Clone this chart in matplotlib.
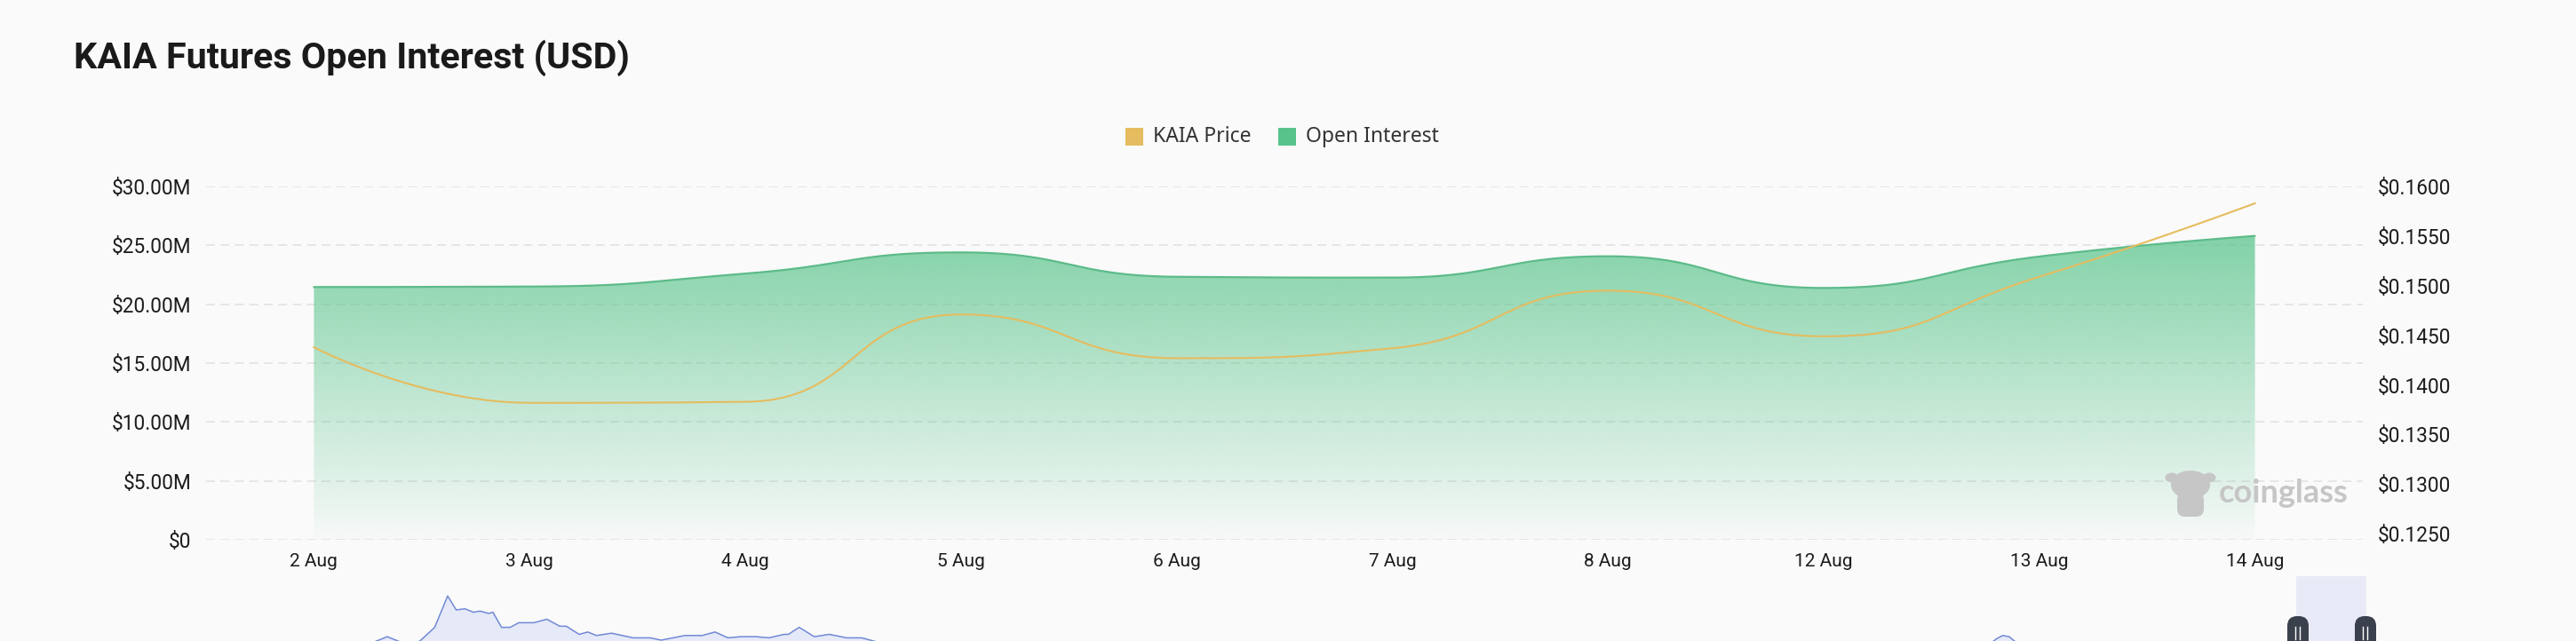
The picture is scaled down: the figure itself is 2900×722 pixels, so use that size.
import numpy as np
import matplotlib
matplotlib.use("Agg")
import matplotlib.pyplot as plt
from matplotlib.patches import Rectangle, FancyBboxPatch, Ellipse, Polygon

# ---- data ----
dates = ['2 Aug', '3 Aug', '4 Aug', '5 Aug', '6 Aug', '7 Aug', '8 Aug', '12 Aug', '13 Aug', '14 Aug']
open_interest = [21.46, 21.50, 22.60, 24.40, 22.33, 22.26, 24.07, 21.38, 24.05, 25.80]  # million USD
kaia_price = [0.1438, 0.1382, 0.1383, 0.1471, 0.1427, 0.1437, 0.1495, 0.1449, 0.1509, 0.1583]
oi_ticks = [0, 5, 10, 15, 20, 25, 30]
price_ticks = [0.125, 0.130, 0.135, 0.140, 0.145, 0.150, 0.155, 0.160]

# overview series shown in the zoom slider (mostly cut off at the bottom)
mini_idx = [60, 84, 92, 99, 106, 112, 116, 120, 124, 127, 131, 133, 137, 141, 145, 152, 158,
            164, 167, 173, 177, 181, 188, 198, 206, 211, 222, 230, 236, 242, 248, 255, 261,
            268, 270, 275, 282, 289, 297, 304, 310, 330, 500, 826, 830, 833, 836, 840, 850, 1000]
mini_val = [30, 48, 42, 44, 56, 83, 71, 72, 69, 70, 68, 69, 56, 56, 60, 60, 63,
            57, 57, 50, 52, 49, 51, 47, 47, 45, 49, 49, 52, 47, 48, 48, 47,
            50, 50, 56, 48, 50, 47, 47, 44, 36, 34, 40, 46, 49, 48, 42, 36, 33]

OI_COLOR = '#58c48b'
OI_LINE = '#5dbb89'
PRICE_COLOR = '#e5bc5f'
BG = '#fafafa'
TICK_FONT = ['Roboto', 'DejaVu Sans']

W, H = 2900, 722
fig = plt.figure(figsize=(W / 100, H / 100), dpi=100, facecolor=BG)


def echarts_smooth(axis, xs, ys, smooth=0.5, steps=60):
    # cubic bezier smoothing with extreme constraint, done in pixel space
    p = axis.transData.transform(np.column_stack([xs, ys]))
    n = len(p)
    segs = []
    cp0 = p[0].copy()
    t = np.linspace(0, 1, steps)[:, None]
    for i in range(1, n):
        prev, cur = p[i - 1], p[i]
        if i == n - 1:
            cp1 = cur.copy()
            ncp0 = cur.copy()
        else:
            nxt = p[i + 1]
            v = nxt - prev
            l0 = np.hypot(*(cur - prev))
            l1 = np.hypot(*(nxt - cur))
            r = l1 / (l0 + l1)
            ncp0 = cur + v * smooth * r
            ncp0 = np.clip(ncp0, np.minimum(nxt, cur), np.maximum(nxt, cur))
            v = ncp0 - cur
            cp1 = cur - v * l0 / l1
            cp1 = np.clip(cp1, np.minimum(prev, cur), np.maximum(prev, cur))
            v = cur - cp1
            ncp0 = cur + v * l1 / l0
        seg = (1 - t) ** 3 * prev + 3 * (1 - t) ** 2 * t * cp0 + 3 * (1 - t) * t ** 2 * cp1 + t ** 3 * cur
        segs.append(seg if i == 1 else seg[1:])
        cp0 = ncp0
    d = axis.transData.inverted().transform(np.vstack(segs))
    return d[:, 0], d[:, 1]


ax = fig.add_axes([232 / W, 1 - 608 / H, (2660 - 232) / W, (608 - 210) / H])
ax.set_facecolor('none')
x = np.arange(len(dates))
ax.set_xlim(-0.5, len(dates) - 0.5)
ax.set_ylim(0, 30)
ax2 = ax.twinx()
ax2.set_ylim(0.1244, 0.1600)

# open interest area with vertical gradient
ox, oy = echarts_smooth(ax, x, open_interest)
poly = Polygon(np.vstack([np.column_stack([ox, oy]), [[ox[-1], 0], [ox[0], 0]]]),
               closed=True, facecolor='none', edgecolor='none', transform=ax.transData)
ax.add_patch(poly)
rgb = np.array(matplotlib.colors.to_rgb(OI_COLOR))
alpha = np.linspace(0.74, 0.02, 256)
grad = np.zeros((256, 1, 4))
grad[:, 0, :3] = rgb
grad[:, 0, 3] = alpha
im = ax.imshow(grad, extent=(ox[0], ox[-1], 0, oy.max()), aspect='auto',
               origin='upper', interpolation='bilinear', zorder=2)
im.set_clip_path(poly)
ax.plot(ox, oy, color=OI_LINE, lw=1.6, zorder=3, solid_capstyle='round')
ax.set_xlim(-0.5, len(dates) - 0.5)
ax.set_ylim(0, 30)

# price line
px, py = echarts_smooth(ax2, x, kaia_price)
ax2.plot(px, py, color=PRICE_COLOR, lw=1.5, zorder=4)

# axes styling
ax.set_axisbelow(True)
ax.yaxis.grid(True, color='#e4e4e4', lw=1.3, linestyle=(0, (5.5, 3.5)))
ax.xaxis.grid(False)
for a in (ax, ax2):
    for s in a.spines.values():
        s.set_visible(False)
ax.set_yticks(oi_ticks)
ax.set_yticklabels(['$0'] + ['$%.2fM' % v for v in oi_ticks[1:]])
ax2.set_yticks(price_ticks)
ax2.set_yticklabels(['$%.4f' % v for v in price_ticks])
ax.set_xticks(x)
ax.set_xticklabels(dates)
ax.tick_params(axis='y', length=0, pad=12, labelsize=16.3, labelcolor='#1c1c1c')
ax2.tick_params(axis='y', length=0, pad=12, labelsize=16.3, labelcolor='#1c1c1c')
ax.tick_params(axis='x', length=0, pad=11, labelsize=15, labelcolor='#1c1c1c')
for lab in ax.get_xticklabels() + ax.get_yticklabels() + ax2.get_yticklabels():
    lab.set_family(TICK_FONT)

# slider overview chart
mini = fig.add_axes([232 / W, 1 - 780 / H, 2428 / W, (780 - 649) / H])
mini.set_facecolor('none')
mini.fill_between(mini_idx, mini_val, 0, color='#e5e9f8', lw=0)
mini.plot(mini_idx, mini_val, color='#7189d6', lw=1.1)
mini.set_xlim(0, 1000)
mini.set_ylim(0, 100)
mini.axis('off')

# overlay for title, legend, watermark, slider handles (pixel coordinates)
deco = fig.add_axes([0, 0, 1, 1])
deco.set_facecolor('none')
deco.set_xlim(0, W)
deco.set_ylim(H, 0)
deco.axis('off')

deco.text(83, 77, 'KAIA Futures Open Interest (USD)', fontsize=29.7, fontweight='bold',
          family=['Roboto', 'DejaVu Sans'], color='#1a1a1a',
          va='baseline', ha='left')

deco.add_patch(Rectangle((1267, 144), 20, 20, color=PRICE_COLOR, lw=0))
deco.text(1298, 154, 'KAIA Price', fontsize=16.5, family=['Noto Sans', 'DejaVu Sans'],
          color='#333333', va='center', ha='left')
deco.add_patch(Rectangle((1439, 144), 20, 20, color=OI_COLOR, lw=0))
deco.text(1470, 154, 'Open Interest', fontsize=16.5, family=['Noto Sans', 'DejaVu Sans'],
          color='#333333', va='center', ha='left')

# watermark
wm = '#c6c6c6'
deco.add_patch(Ellipse((2466, 546), 44, 32, color=wm, lw=0))
deco.add_patch(Ellipse((2445, 538), 15, 11, color=wm, lw=0))
deco.add_patch(Ellipse((2487, 538), 15, 11, color=wm, lw=0))
deco.add_patch(FancyBboxPatch((2451, 554), 30, 28, boxstyle='round,pad=0,rounding_size=9', color=wm, lw=0))
deco.text(2498, 556, 'coinglass', fontsize=26, fontweight='bold', family=['Lato', 'DejaVu Sans'],
          color=wm, va='center', ha='left')

# slider window and handles
deco.add_patch(Rectangle((2585, 649), 79, 90, color='#e8ebf7', lw=0))
for hx in (2587, 2663):
    deco.add_patch(FancyBboxPatch((hx - 12, 694), 24, 50, boxstyle='round,pad=0,rounding_size=11',
                                  color='#3b404d', lw=0))
    deco.plot([hx - 2.5, hx - 2.5], [706, 720], color='white', lw=1)
    deco.plot([hx + 2.5, hx + 2.5], [706, 720], color='white', lw=1)

fig.savefig('out.png', dpi=100, facecolor=BG)
